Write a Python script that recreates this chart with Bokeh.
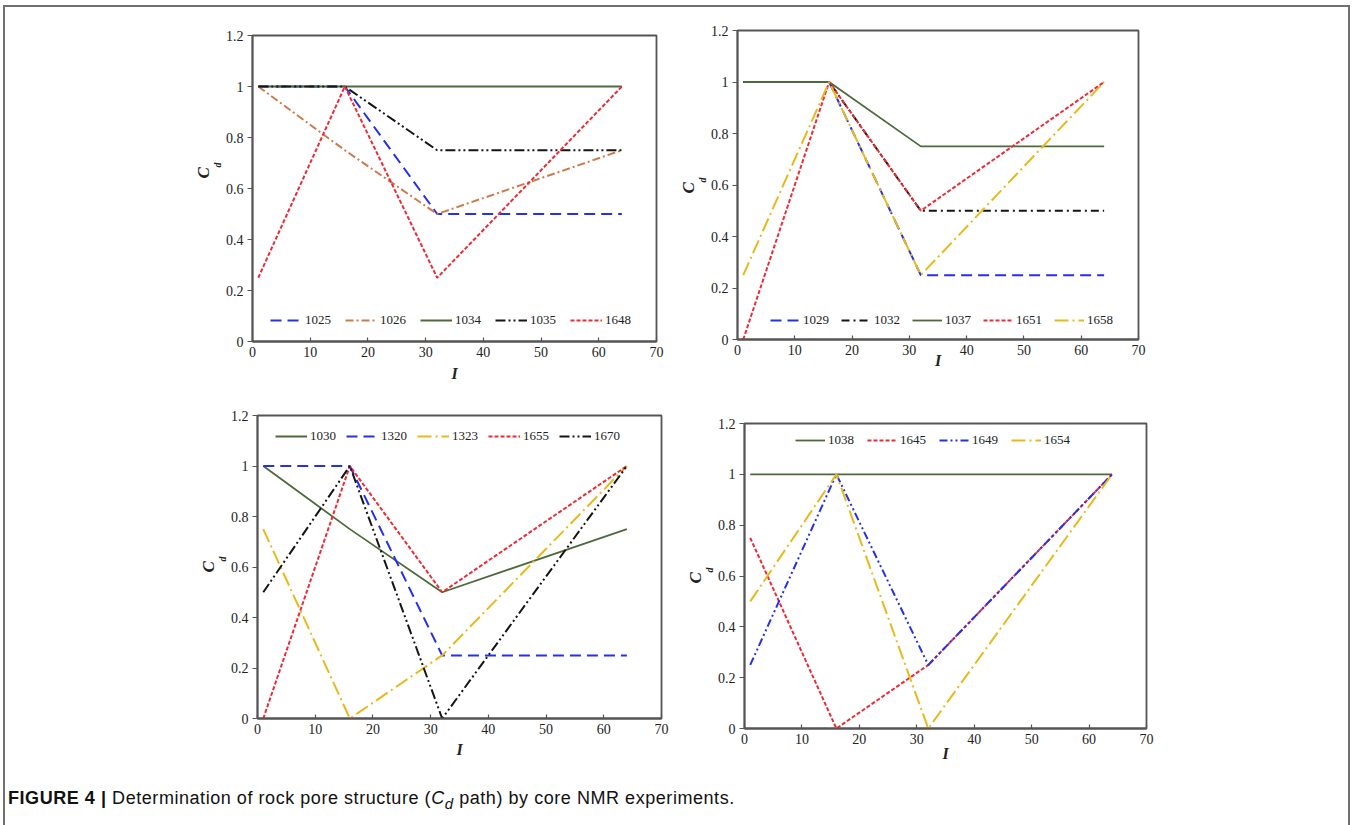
from bokeh.plotting import figure
from bokeh.models import (Range1d, FixedTicker, CustomJSTickFormatter, Legend,
                          LegendItem, Title, Spacer, Div)
from bokeh.layouts import column, row
from bokeh.embed import file_html
from bokeh.resources import INLINE

# ---------------- data ----------------
I_values = [1, 16, 32, 64]
x_ticks = [0, 10, 20, 30, 40, 50, 60, 70]
y_ticks = [0, 0.2, 0.4, 0.6, 0.8, 1, 1.2]

# panel (a)
a_labels = ["1025", "1026", "1034", "1035", "1648"]
a_1025 = [1, 1, 0.5, 0.5]
a_1026 = [1, 0.75, 0.5, 0.75]
a_1034 = [1, 1, 1, 1]
a_1035 = [1, 1, 0.75, 0.75]
a_1648 = [0.25, 1, 0.25, 1]

# panel (b)
b_labels = ["1029", "1032", "1037", "1651", "1658"]
b_1029 = [1, 1, 0.25, 0.25]
b_1032 = [1, 1, 0.5, 0.5]
b_1037 = [1, 1, 0.75, 0.75]
b_1651 = [0, 1, 0.5, 1]
b_1658 = [0.25, 1, 0.25, 1]

# panel (c)
c_labels = ["1030", "1320", "1323", "1655", "1670"]
c_1030 = [1, 0.75, 0.5, 0.75]
c_1320 = [1, 1, 0.25, 0.25]
c_1323 = [0.75, 0, 0.25, 1]
c_1655 = [0, 1, 0.5, 1]
c_1670 = [0.5, 1, 0, 1]

# panel (d)
d_labels = ["1038", "1645", "1649", "1654"]
d_1038 = [1, 1, 1, 1]
d_1645 = [0.75, 0, 0.25, 1]
d_1649 = [0.25, 1, 0.25, 1]
d_1654 = [0.5, 1, 0, 1]

# ---------------- styles ----------------
BLUE = "#2530ea"
ORANGE = "#cc7b4c"
GREEN = "#4e6a3a"
BLACK = "#151515"
RED = "#ee2a35"
GOLD = "#e9b91c"

ST_BLUE_DASH = (BLUE, "11 6", 2.0)
ST_ORANGE_DD = (ORANGE, "8 3 2 3", 2.0)
ST_GREEN = (GREEN, "solid", 1.8)
ST_BLACK_DDD = (BLACK, "10 3 2 3 2 3", 2.0)
ST_BLACK_DD = (BLACK, "8 4 2 4", 2.0)
ST_RED = (RED, "4 2", 2.0)
ST_GOLD = (GOLD, "14 4 2 4", 2.0)
ST_BLUE_DDD = (BLUE, "8 3 2 3 2 3", 2.0)

SERIF = "Liberation Serif"
AX_COL = "#555555"
LEFT_B = 70


def make_panel(labels, series, styles, frame_w, frame_h, border_top,
               leg_loc, leg_glyph_w, leg_spacing, xlabel_standoff, c_start):
    p = figure(frame_width=frame_w, frame_height=frame_h,
               x_range=Range1d(0, 70), y_range=Range1d(0, 1.2),
               output_backend="svg", toolbar_location=None,
               min_border_left=LEFT_B, min_border_right=10,
               min_border_top=border_top, min_border_bottom=50)
    p.xgrid.visible = False
    p.ygrid.visible = False
    p.outline_line_color = AX_COL
    p.outline_line_width = 1.8
    p.background_fill_color = "white"
    p.border_fill_color = None

    p.xaxis.ticker = FixedTicker(ticks=x_ticks)
    p.yaxis.ticker = FixedTicker(ticks=y_ticks)
    p.xaxis.formatter = CustomJSTickFormatter(code="return tick.toString();")
    p.yaxis.formatter = CustomJSTickFormatter(code="return tick.toString();")
    for ax in (p.xaxis[0], p.yaxis[0]):
        ax.axis_line_color = AX_COL
        ax.axis_line_width = 1.8
        ax.major_tick_line_color = AX_COL
        ax.major_tick_line_width = 1.2
        ax.minor_tick_line_color = None
        ax.major_label_text_font = SERIF
        ax.major_label_text_font_size = "14px"
        ax.major_label_text_color = "#222222"
    p.xaxis.major_tick_in = 4
    p.xaxis.major_tick_out = 0
    p.xaxis.major_label_standoff = 5
    p.yaxis.major_tick_in = 0
    p.yaxis.major_tick_out = 5
    p.yaxis.major_label_standoff = 4

    p.xaxis.axis_label = "I"
    p.xaxis.axis_label_text_font = SERIF
    p.xaxis.axis_label_text_font_style = "bold italic"
    p.xaxis.axis_label_text_font_size = "16px"
    p.xaxis.axis_label_text_color = "#222222"
    p.xaxis.axis_label_standoff = xlabel_standoff

    # y-axis label C_d: subscript "d" next to the axis, "C" just outside of it
    p.add_layout(Title(text="d", align="left", offset=c_start + 11, standoff=0,
                       text_font=SERIF, text_font_style="bold italic",
                       text_font_size="10px", text_color="#222222"), "left")
    p.add_layout(Title(text="C", align="left", offset=c_start, standoff=-6,
                       text_font=SERIF, text_font_style="bold italic",
                       text_font_size="17px", text_color="#222222"), "left")

    items = []
    for lab, ys, (col, dash, lw) in zip(labels, series, styles):
        r = p.line(I_values, ys, line_color=col, line_dash=dash, line_width=lw)
        items.append(LegendItem(label=lab, renderers=[r]))
    leg = Legend(items=items, orientation="horizontal", location=leg_loc,
                 glyph_width=leg_glyph_w, glyph_height=16, label_height=16,
                 label_standoff=3, spacing=leg_spacing, padding=0, margin=0,
                 border_line_alpha=0, background_fill_alpha=0,
                 label_text_font=SERIF, label_text_font_size="13px",
                 label_text_color="#222222")
    p.add_layout(leg)
    return p


pa = make_panel(a_labels, [a_1025, a_1026, a_1034, a_1035, a_1648],
                [ST_BLUE_DASH, ST_ORANGE_DD, ST_GREEN, ST_BLACK_DDD, ST_RED],
                404, 306, 23, (18, 13), 32, 14, 5, 163)
pb = make_panel(b_labels, [b_1029, b_1032, b_1037, b_1651, b_1658],
                [ST_BLUE_DASH, ST_BLACK_DD, ST_GREEN, ST_RED, ST_GOLD],
                401, 309, 23, (33, 11), 30, 12, -6, 146)
pc = make_panel(c_labels, [c_1030, c_1320, c_1323, c_1655, c_1670],
                [ST_GREEN, ST_BLUE_DASH, ST_GOLD, ST_RED, ST_BLACK_DDD],
                404, 303, 24, (18, 274), 32, 10, 4, 146)
pd = make_panel(d_labels, [d_1038, d_1645, d_1649, d_1654],
                [ST_GREEN, ST_RED, ST_BLUE_DDD, ST_GOLD],
                402, 305, 24, (51, 280), 30, 13, -2, 145)

row1 = row(Spacer(width=247 - LEFT_B, height=10),
           column(Spacer(width=10, height=5), pa),
           Spacer(width=1, height=10),
           column(Spacer(width=10, height=0), pb),
           Spacer(width=200, height=10))
row2 = row(Spacer(width=252 - LEFT_B, height=10),
           column(Spacer(width=10, height=0), pc),
           Spacer(width=3, height=10),
           column(Spacer(width=10, height=8), pd),
           Spacer(width=192, height=10))

caption = Div(
    text='<span style="font-weight:bold">FIGURE 4 |</span> Determination of rock pore '
         'structure (<i>C<sub>d</sub></i> path) by core NMR experiments.',
    width=1330, height=40, margin=(8, 0, 0, 3),
    styles={"font-family": "'Liberation Sans', Arial, sans-serif",
            "font-size": "18px", "letter-spacing": "0.55px", "color": "#111111"})

page = column(row1, row2, caption,
              margin=(5, 0, 0, 3),
              styles={"border-top": "2px solid #707070",
                      "border-left": "2px solid #707070",
                      "border-right": "2px solid #707070"})

open("out.html", "w").write(file_html(page, INLINE))
